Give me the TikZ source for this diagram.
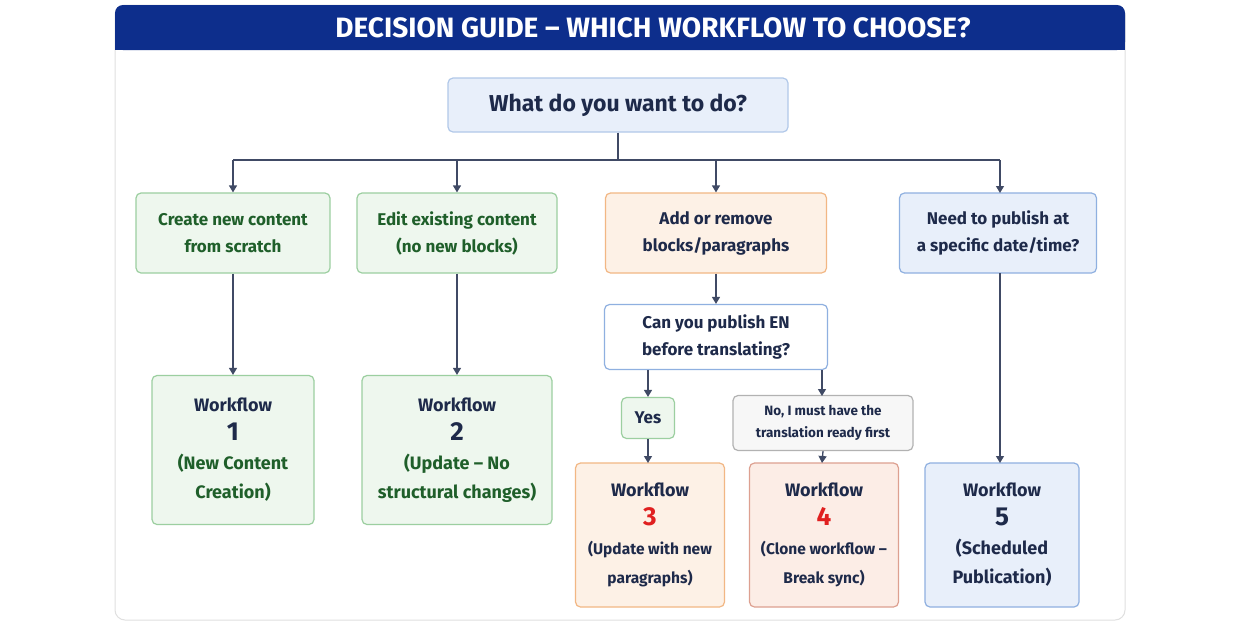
\documentclass[tikz,border=0pt]{standalone}
\usepackage{fontspec}
\setmainfont{Fira Sans}
\usetikzlibrary{arrows.meta}
\definecolor{navy}{HTML}{0D2E8C}
\definecolor{ink}{HTML}{1E2A4A}
\definecolor{gtext}{HTML}{1F5F2A}
\definecolor{gfill}{HTML}{EEF7EE}
\definecolor{gline}{HTML}{9CCFA0}
\definecolor{ofill}{HTML}{FDF1E6}
\definecolor{oline}{HTML}{F2B784}
\definecolor{bfill}{HTML}{E8EFFA}
\definecolor{bline}{HTML}{8FB0E0}
\definecolor{rfill}{HTML}{FCEDE6}
\definecolor{rline}{HTML}{DDA090}
\definecolor{num}{HTML}{E02020}
\begin{document}
\begin{tikzpicture}[x=1pt,y=-1pt,
  box/.style={draw,rounded corners=5pt,line width=1.2pt,align=center,font=\bfseries,inner sep=0pt},
  gbox/.style={box,fill=gfill,draw=gline,text=gtext},
  obox/.style={box,fill=ofill,draw=oline,text=ink},
  bbox/.style={box,fill=bfill,draw=bline,text=ink},
  rbox/.style={box,fill=rfill,draw=rline,text=ink},
  arr/.style={draw=ink!85,line width=1.3pt,-{Triangle[length=7pt,width=8pt]}},
  ln/.style={draw=ink!85,line width=1.3pt},
  q2/.style={font=\bfseries\fontsize{17}{27}\selectfont},
  wf/.style={font=\bfseries\fontsize{18}{29}\selectfont}]
\useasboundingbox (0,0) rectangle (1240,630);
\fill[white] (0,0) rectangle (1240,630);
\draw[rounded corners=10pt,draw=black!12,line width=1pt,fill=white] (115,5) rectangle (1125,620);
\fill[navy,rounded corners=8pt] (115,5) rectangle (1125,50);
\fill[navy] (115,30) rectangle (1125,50);
\node[text=white,font=\bfseries\fontsize{28}{30}\selectfont] (title) at (653,28) {DECISION GUIDE – WHICH WORKFLOW TO CHOOSE?};

\node[bbox,draw=bline!70,minimum width=340pt,minimum height=54pt,font=\bfseries\fontsize{23}{26}\selectfont] (top) at (618,105) {What do you want to do?};

\node[gbox,q2,minimum width=194pt,minimum height=80pt] (a) at (233,233) {Create new content\\from scratch};
\node[gbox,q2,minimum width=200pt,minimum height=80pt] (b) at (457,233) {Edit existing content\\(no new blocks)};
\node[obox,q2,minimum width=221pt,minimum height=80pt] (c) at (716,233) {Add or remove\\blocks/paragraphs};
\node[bbox,q2,minimum width=197pt,minimum height=80pt] (d) at (998,233) {Need to publish at\\a specific date/time?};

\node[box,q2,fill=white,draw=bline,text=ink,minimum width=223pt,minimum height=65pt] (q) at (716,337) {Can you publish EN\\before translating?};
\node[gbox,text=ink,minimum width=53pt,minimum height=41pt,font=\bfseries\fontsize{17}{20}\selectfont] (yes) at (648,418) {Yes};
\node[box,fill=black!3,draw=black!30,text=ink,minimum width=180pt,minimum height=55pt,font=\bfseries\fontsize{13.5}{22}\selectfont] (no) at (823,423) {No, I must have the\\translation ready first};

\node[gbox,wf,text=ink,minimum width=162pt,minimum height=149pt] (w1) at (233,450) {Workflow\\{\fontsize{26}{36}\selectfont 1}\\\textcolor{gtext}{(New Content}\\\textcolor{gtext}{Creation)}};
\node[gbox,wf,text=ink,minimum width=190pt,minimum height=149pt] (w2) at (457,450) {Workflow\\{\fontsize{26}{36}\selectfont 2}\\\textcolor{gtext}{(Update – No}\\\textcolor{gtext}{structural changes)}};
\node[obox,wf,minimum width=149pt,minimum height=144pt] (w3) at (650,535) {Workflow\\{\fontsize{26}{34}\selectfont\color{num}3}\\{\fontsize{15.5}{29}\selectfont (Update with new}\\{\fontsize{15.5}{29}\selectfont paragraphs)}};
\node[rbox,wf,minimum width=149pt,minimum height=144pt] (w4) at (824,535) {Workflow\\{\fontsize{26}{34}\selectfont\color{num}4}\\{\fontsize{15.5}{29}\selectfont (Clone workflow –}\\{\fontsize{15.5}{29}\selectfont Break sync)}};
\node[bbox,wf,minimum width=154pt,minimum height=144pt] (w5) at (1002,535) {Workflow\\{\fontsize{26}{34}\selectfont 5}\\(Scheduled\\Publication)};

\coordinate (j) at (618,160);
\draw[ln] (top.south) -- (j);
\draw[ln] (233,160) -- (1000,160);
\draw[arr] (233,160) -- (a.north);
\draw[arr] (457,160) -- (b.north);
\draw[arr] (716,160) -- (c.north);
\draw[arr] (1000,160) -- (1000,193);
\draw[arr] (a.south) -- (w1.north);
\draw[arr] (b.south) -- (w2.north);
\draw[arr] (c.south) -- (q.north);
\draw[arr] (1000,273) -- (1000,463);
\draw[arr] (648,370) -- (yes.north);
\draw[arr] (yes.south) -- (648,463);
\draw[arr] (822,370) -- (822,396);
\draw[arr] (no.south) -- (822,463);
\end{tikzpicture}
\end{document}
